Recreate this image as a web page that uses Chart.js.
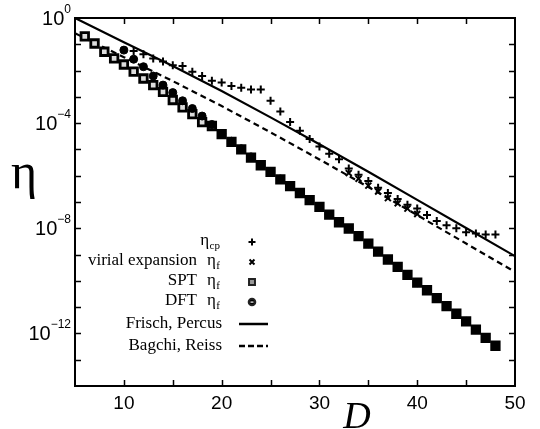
<!DOCTYPE html>
<html>
<head>
<meta charset="utf-8">
<script src="https://cdn.jsdelivr.net/npm/chart.js@4/dist/chart.umd.min.js"></script>
<style>
html,body{margin:0;padding:0;background:#fff;}
canvas{display:block;}
</style>
</head>
<body>
<canvas id="c" width="540" height="429" style="width:540px;height:429px"></canvas>
<script>
// ---- data ----
const dCp = [11,12,13,14,15,16,17,18,19,20,21,22,23,24,25,26,27,28,29,30,31,32,33,34,35,36,37,38,39,40,41,42,43,44,45,46,47,48];
const etaCp = [5.6e-2,4.2e-2,2.9e-2,2.2e-2,1.6e-2,1.5e-2,9.1e-3,6.2e-3,4.1e-3,3.5e-3,2.6e-3,2.2e-3,1.9e-3,1.9e-3,7.1e-4,2.8e-4,1.1e-4,5.1e-5,2.5e-5,1.3e-5,6.9e-6,4.2e-6,1.9e-6,1.1e-6,6.3e-7,3.5e-7,2.2e-7,1.3e-7,7.9e-8,5.6e-8,3.2e-8,1.9e-8,1.3e-8,1.0e-8,7.1e-9,6.3e-9,5.8e-9,5.8e-9];

const dVirial = [33,34,35,36,37,38,39,40];
const etaVirial = [1.26e-6,7.6e-7,4.2e-7,2.5e-7,1.4e-7,8.9e-8,5.6e-8,3.5e-8];

const dSpt = [6,7,8,9,10,11,12,13,14,15,16,17,18,19,20,21,22,23,24,25,26,27,28,29,30,31,32,33,34,35,36,37,38,39,40,41,42,43,44,45,46,47,48];
const etaSpt = [0.20,0.107,5.2e-2,2.9e-2,1.7e-2,9.1e-3,5.0e-3,2.8e-3,1.55e-3,7.6e-4,4.0e-4,2.2e-4,1.1e-4,7.8e-5,3.8e-5,1.95e-5,1.0e-5,4.9e-6,2.5e-6,1.4e-6,7.2e-7,4.0e-7,2.2e-7,1.17e-7,6.5e-8,3.3e-8,1.7e-8,9.8e-9,5.0e-9,2.6e-9,1.3e-9,6.5e-10,3.4e-10,1.7e-10,8.5e-11,4.4e-11,2.2e-11,1.1e-11,5.6e-12,2.9e-12,1.4e-12,6.8e-13,3.4e-13];

const dDft = [10,11,12,13,14,15,16,17,18,19,20,21,22,23,24,25,26,27,28,29,30,31,32,33,34,35,36,37,38,39,40,41,42,43,44,45,46,47,48];
const etaDft = [6.0e-2,2.7e-2,1.4e-2,6.2e-3,2.8e-3,1.45e-3,7.1e-4,3.6e-4,1.86e-4,8.9e-5,4.0e-5,2.05e-5,1.05e-5,5.2e-6,2.65e-6,1.45e-6,7.5e-7,4.0e-7,2.2e-7,1.17e-7,6.5e-8,3.3e-8,1.7e-8,9.8e-9,5.0e-9,2.6e-9,1.3e-9,6.5e-10,3.4e-10,1.7e-10,8.5e-11,4.4e-11,2.2e-11,1.1e-11,5.6e-12,2.9e-12,1.4e-12,6.8e-13,3.4e-13];

const dLine = [5,10,15,20,25,30,35,40,45,50];
const etaFrisch = [1,1.2e-1,1.48e-2,1.66e-3,1.66e-4,1.58e-5,1.41e-6,1.2e-7,1.02e-8,8.7e-10];
const etaBagchi = [0.263,3.24e-2,3.98e-3,4.47e-4,4.47e-5,4.17e-6,3.7e-7,3.16e-8,2.63e-9,2.19e-10];

const xTickValues = [10,15,20,25,30,35,40,45];
const xTickLabels = ['10','20','30','40','50'];
const yLabelExps = ['0','-4','-8','-12'];

const legendNames = ['', 'virial expansion', 'SPT', 'DFT', 'Frisch, Percus', 'Bagchi, Reiss'];
const legendSubs = ['cp', 'f', 'f', 'f', '', ''];

// ---- build ----
const pts = (xs, ys) => xs.map((x, i) => ({x: x, y: ys[i]}));

const SERIF = '"Liberation Serif","DejaVu Serif",serif';
const SANS = '"Liberation Sans",Arial,sans-serif';

const deco = {
  id: 'deco',
  afterDraw(chart) {
    const ctx = chart.ctx;
    const a = chart.chartArea;
    const xs = chart.scales.x, ys = chart.scales.y;
    ctx.save();
    ctx.strokeStyle = '#000';
    ctx.fillStyle = '#000';
    ctx.lineWidth = 2;
    ctx.strokeRect(a.left, a.top, a.right - a.left, a.bottom - a.top);
    // x ticks (inward, bottom and top)
    ctx.lineWidth = 1.5;
    xTickValues.forEach(v => {
      const px = Math.round(xs.getPixelForValue(v)) + 0.5;
      ctx.beginPath();
      ctx.moveTo(px, a.bottom); ctx.lineTo(px, a.bottom - 6);
      ctx.moveTo(px, a.top); ctx.lineTo(px, a.top + 6);
      ctx.stroke();
    });
    // y ticks each decade
    for (let e = -1; e >= -13; e--) {
      const py = Math.round(ys.getPixelForValue(Math.pow(10, e))) + 0.5;
      ctx.beginPath();
      ctx.moveTo(a.left, py); ctx.lineTo(a.left + 6, py);
      ctx.moveTo(a.right, py); ctx.lineTo(a.right - 6, py);
      ctx.stroke();
    }
    // x labels
    ctx.font = '19px ' + SANS;
    ctx.textAlign = 'center';
    ctx.textBaseline = 'alphabetic';
    xTickLabels.forEach(t => {
      const px = xs.getPixelForValue(Number(t));
      ctx.fillText(t, px, a.bottom + 23);
    });
    // y labels 10^e
    yLabelExps.forEach(e => {
      const py = ys.getPixelForValue(Math.pow(10, Number(e)));
      ctx.font = '12px ' + SANS;
      const supTxt = e.replace('-', '\u2212');
      const sw = ctx.measureText(supTxt).width;
      const right = a.left - 4;
      ctx.textAlign = 'left';
      ctx.fillText(supTxt, right - sw, py - 5);
      ctx.font = '20px ' + SANS;
      const bw = ctx.measureText('10').width;
      ctx.fillText('10', right - sw - bw, py + 7);
    });
    // axis titles
    ctx.font = '50px ' + SERIF;
    ctx.textAlign = 'left';
    ctx.fillText('\u03b7', 11, 188);
    ctx.font = 'italic 38px ' + SERIF;
    ctx.textAlign = 'center';
    ctx.fillText('D', 357, 428);

    // legend
    const rowY = [241, 261, 281, 301, 323, 345];
    const markX = 252;
    for (let i = 0; i < 6; i++) {
      const y = rowY[i];
      ctx.textAlign = 'right';
      if (legendSubs[i]) {
        ctx.font = '11px ' + SERIF;
        const subW = ctx.measureText(legendSubs[i]).width;
        ctx.textAlign = 'left';
        ctx.fillText(legendSubs[i], 220 - subW, y + 8);
        ctx.font = '17px ' + SERIF;
        const etaW = ctx.measureText('\u03b7').width;
        ctx.fillText('\u03b7', 220 - subW - etaW - 0.5, y + 4);
        if (legendNames[i]) {
          ctx.textAlign = 'right';
          ctx.fillText(legendNames[i], 197, y + 4);
        }
      } else {
        ctx.font = '17px ' + SERIF;
        ctx.textAlign = 'right';
        ctx.fillText(legendNames[i], 222, y + 5);
      }
    }
    // legend markers
    const dp = Chart.helpers.drawPoint;
    ctx.strokeStyle = '#000'; ctx.fillStyle = '#000';
    ctx.lineWidth = 2;
    dp(ctx, {pointStyle: 'cross', radius: 3.5, rotation: 0, borderWidth: 2}, markX, rowY[0] + 1);
    dp(ctx, {pointStyle: 'crossRot', radius: 3.5, rotation: 0, borderWidth: 2}, markX, rowY[1] + 1);
    ctx.fillStyle = '#999'; ctx.strokeStyle = '#222'; ctx.lineWidth = 2;
    dp(ctx, {pointStyle: 'rect', radius: 4.2, rotation: 0, borderWidth: 2}, markX, rowY[2] + 1);
    ctx.fillStyle = '#000'; ctx.strokeStyle = '#222';
    dp(ctx, {pointStyle: 'circle', radius: 3.3, rotation: 0, borderWidth: 1}, markX, rowY[3] + 1);
    ctx.fillStyle = '#fff';
    ctx.fillRect(markX - 1.5, rowY[3] + 0.5, 3, 1.2);
    ctx.strokeStyle = '#000';
    ctx.lineWidth = 2.5;
    ctx.beginPath(); ctx.moveTo(239, rowY[4] + 1); ctx.lineTo(268, rowY[4] + 1); ctx.stroke();
    ctx.setLineDash([6, 3]);
    ctx.beginPath(); ctx.moveTo(239, rowY[5] + 1); ctx.lineTo(268, rowY[5] + 1); ctx.stroke();
    ctx.setLineDash([]);
    ctx.restore();
  }
};

new Chart(document.getElementById('c'), {
  type: 'scatter',
  data: {
    datasets: [
      {label: 'DFT', data: pts(dDft, etaDft), pointStyle: 'circle', pointRadius: 4, backgroundColor: '#000', borderColor: '#000', borderWidth: 1, showLine: false},
      {label: 'SPT', data: pts(dSpt, etaSpt), pointStyle: 'rect', pointRadius: 5.3, backgroundColor: '#ddd', borderColor: '#000', borderWidth: 2.8, showLine: false},
      {label: 'virial', data: pts(dVirial, etaVirial), pointStyle: 'crossRot', pointRadius: 4.2, borderColor: '#000', borderWidth: 2, showLine: false},
      {label: 'cp', data: pts(dCp, etaCp), pointStyle: 'cross', pointRadius: 4, borderColor: '#000', borderWidth: 2, showLine: false},
      {label: 'Frisch', data: pts(dLine, etaFrisch), showLine: true, pointRadius: 0, borderColor: '#000', borderWidth: 2.2, tension: 0},
      {label: 'Bagchi', data: pts(dLine, etaBagchi), showLine: true, pointRadius: 0, borderColor: '#000', borderWidth: 2.2, borderDash: [6, 4], tension: 0}
    ]
  },
  options: {
    responsive: false,
    animation: false,
    devicePixelRatio: 1,
    layout: {padding: {left: 75, right: 25, top: 18, bottom: 43}},
    plugins: {legend: {display: false}, tooltip: {enabled: false}},
    scales: {
      x: {type: 'linear', min: 5, max: 50, grid: {display: false, drawTicks: false}, border: {display: false}, ticks: {display: false},
          afterFit(s) { s.height = 0; }},
      y: {type: 'logarithmic', min: 1e-14, max: 1, grid: {display: false, drawTicks: false}, border: {display: false}, ticks: {display: false},
          afterFit(s) { s.width = 0; }}
    }
  },
  plugins: [deco]
});
</script>
</body>
</html>
